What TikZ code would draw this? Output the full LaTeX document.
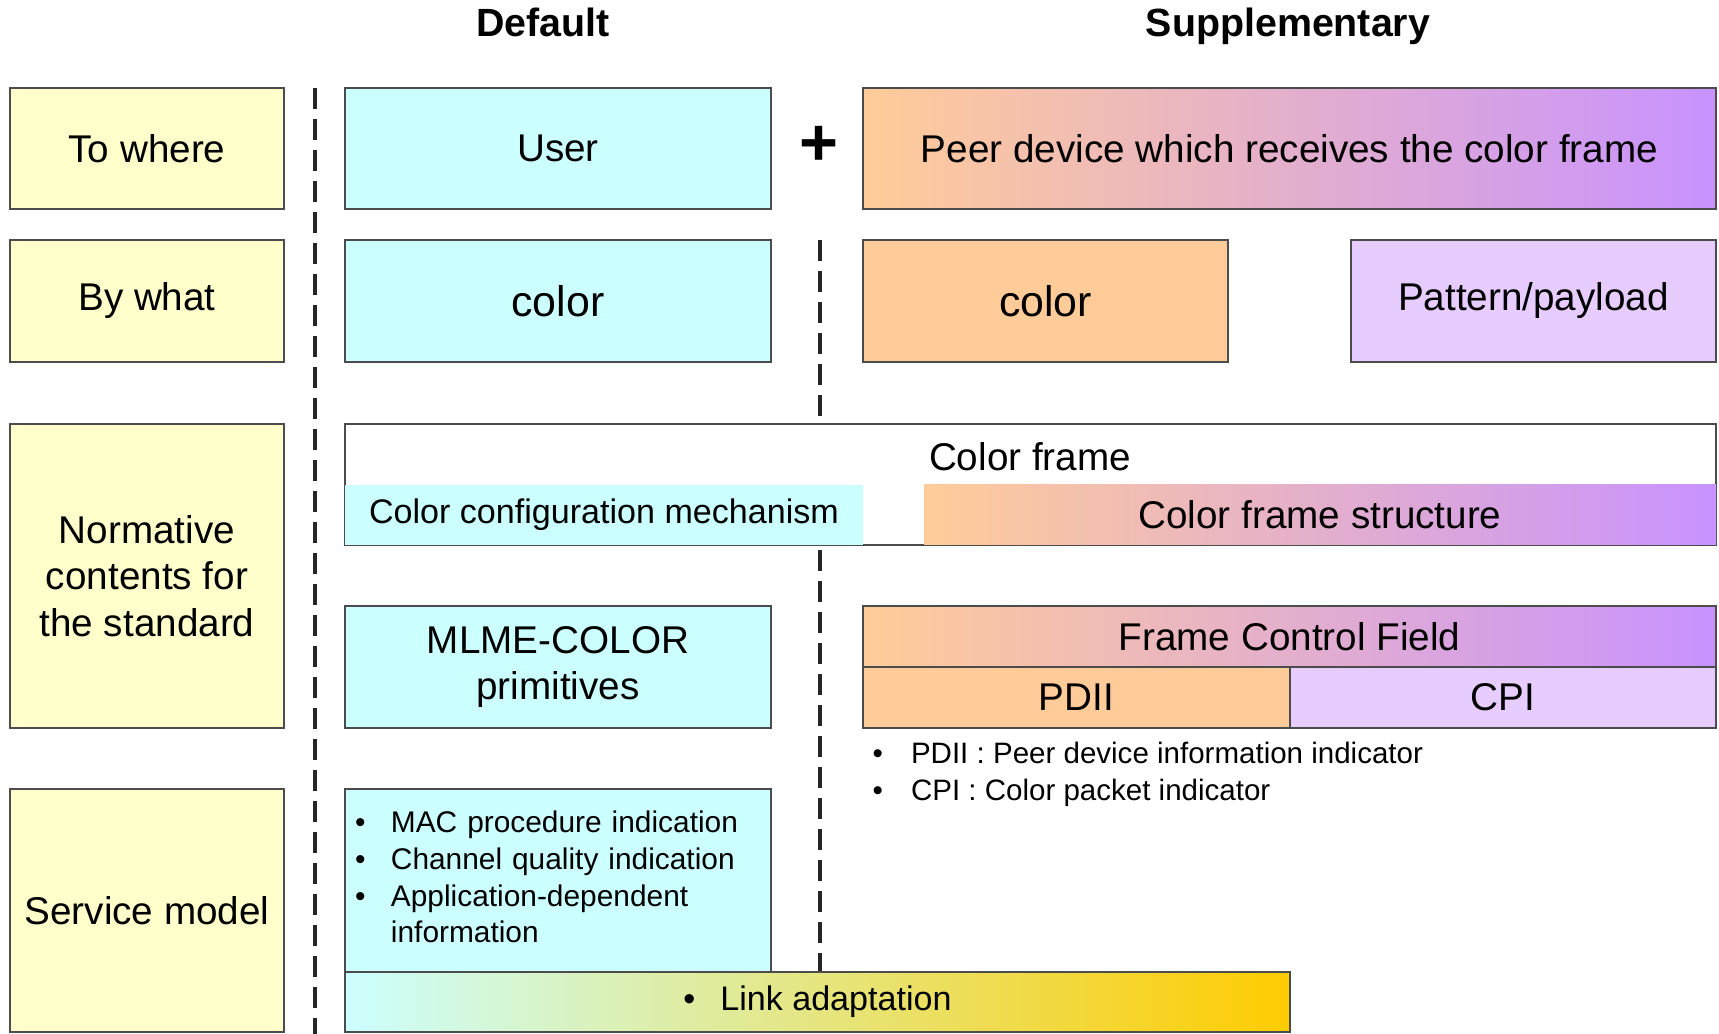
\documentclass[tikz,border=0pt]{standalone}
\usepackage{fontspec}
\setmainfont{Liberation Sans}

\definecolor{rowYellow}{RGB}{255,255,204}
\definecolor{defCyan}{RGB}{204,255,255}
\definecolor{supOrange}{RGB}{255,204,153}
\definecolor{supLilac}{RGB}{230,204,255}
\definecolor{supPurple}{RGB}{200,146,255}
\definecolor{linkGold}{RGB}{255,204,0}

\tikzset{
    cell/.style={draw=black!70, line width=.6pt, inner sep=0pt, align=center, font=\fontsize{11}{13.3}\selectfont},
    labelcol/.style={cell, fill=rowYellow, minimum width=2.74cm},
    defcol/.style={cell, fill=defCyan, minimum width=4.26cm},
    band/.style={inner sep=0pt, minimum height=.6cm, font=\fontsize{9.7}{11.6}\selectfont},
    fade/.style={left color=supOrange, right color=supPurple},
    divider/.style={black!85, line width=1pt, dash pattern=on 2.1mm off 1mm},
    heading/.style={anchor=base, inner sep=0pt, font=\fontsize{11.2}{13.4}\selectfont\bfseries},
    note/.style={anchor=west, inner sep=0pt, font=\fontsize{8.4}{10.5}\selectfont},
}

\begin{document}
\begin{tikzpicture}
                \coordinate (LB) at (0,0);
                \coordinate (RT) at (17.19,10.34);
                \coordinate (Split A top) at (3.15,9.46);
                \coordinate (Split A bottom) at (3.15,0);
                \coordinate (Split B top) at (8.20,7.94);
                \coordinate (Split B bottom) at (8.20,0.62);

                \useasboundingbox (LB) rectangle (RT);
                \fill[white] (LB) rectangle (RT); % background
                \draw[divider] (Split A top) -- (Split A bottom);
                \draw[divider] (Split B top) -- (Split B bottom); % runs behind the frame

                \node[heading] (Default) at (5.43,9.97) {Default};
                \node[heading] (Supplementary) at (12.88,9.97) {Supplementary};

                % row labels
                \node[labelcol, minimum height=1.21cm] (To where) at (1.47,8.855) {To where};
                \node[labelcol, minimum height=1.22cm] (By what) at (1.47,7.33) {By what};
                \node[labelcol, minimum height=3.04cm] (Normative) at (1.47,4.58) {Normative\\contents for\\the standard};
                \node[labelcol, minimum height=2.43cm] (Service) at (1.47,1.235) {Service model};

                % default column
                \node[defcol, minimum height=1.21cm] (User) at (5.58,8.855) {User};
                \node[defcol, minimum height=1.22cm, font=\fontsize{12.2}{14}\selectfont] (Default color) at (5.58,7.33) {color};
                \node[defcol, minimum height=1.22cm] (MLME) at (5.58,3.67) {MLME-COLOR\\primitives};
                \node[defcol, minimum height=1.83cm, text width=4.06cm, align=left, font=\fontsize{8.5}{10.4}\selectfont] (Indications) at (5.58,1.535)
                    {\begin{tabular}{@{}l@{\hspace{2.55mm}}l@{}}
                    \textbullet & MAC procedure indication\\
                    \textbullet & Channel quality indication\\
                    \textbullet & Application-dependent\\
                    & information
                    \end{tabular}};

                \node[inner sep=0pt, font=\fontsize{19}{20}\selectfont\bfseries] (Plus) at (8.19,8.88) {+};

                % supplementary column
                \node[cell, fade, minimum width=8.53cm, minimum height=1.21cm] (Peer) at (12.895,8.855) {Peer device which receives the color frame};
                \node[cell, fill=supOrange, minimum width=3.65cm, minimum height=1.22cm, font=\fontsize{12.2}{14}\selectfont] (Supp color) at (10.455,7.33) {color};
                \node[cell, fill=supLilac, minimum width=3.65cm, minimum height=1.22cm] (Pattern) at (15.335,7.33) {Pattern/payload};

                % color frame
                \node[cell, fill=white, minimum width=13.71cm, minimum height=1.21cm] (Color frame) at (10.305,5.495) {};
                \node[inner sep=0pt, font=\fontsize{11}{13.3}\selectfont] (Frame title) at (10.30,5.77) {Color frame};
                \node[band, fill=defCyan, minimum width=5.18cm] (Config) at (6.04,5.19) {Color configuration mechanism};
                \node[band, fade, minimum width=7.92cm, font=\fontsize{11}{13.3}\selectfont] (Structure) at (13.20,5.19) {Color frame structure};

                % frame control field
                \node[cell, fade, minimum width=8.53cm, minimum height=.61cm] (FCF) at (12.895,3.975) {Frame Control Field};
                \node[cell, fill=supOrange, minimum width=4.27cm, minimum height=.61cm] (PDII) at (10.765,3.365) {PDII};
                \node[cell, fill=supLilac, minimum width=4.26cm, minimum height=.61cm] (CPI) at (15.03,3.365) {CPI};
                \node[note] (Legend) at (8.72,2.595)
                    {\begin{tabular}{@{}l@{\hspace{2.8mm}}l@{}}
                    \textbullet & PDII : Peer device information indicator\\
                    \textbullet & CPI : Color packet indicator
                    \end{tabular}};

                \node[cell, left color=defCyan, right color=linkGold, minimum width=9.45cm, minimum height=.6cm, font=\fontsize{9.7}{11.6}\selectfont] (Link) at (8.175,0.32) {\textbullet\hspace{2.5mm}Link adaptation};
            \end{tikzpicture}
\end{document}
